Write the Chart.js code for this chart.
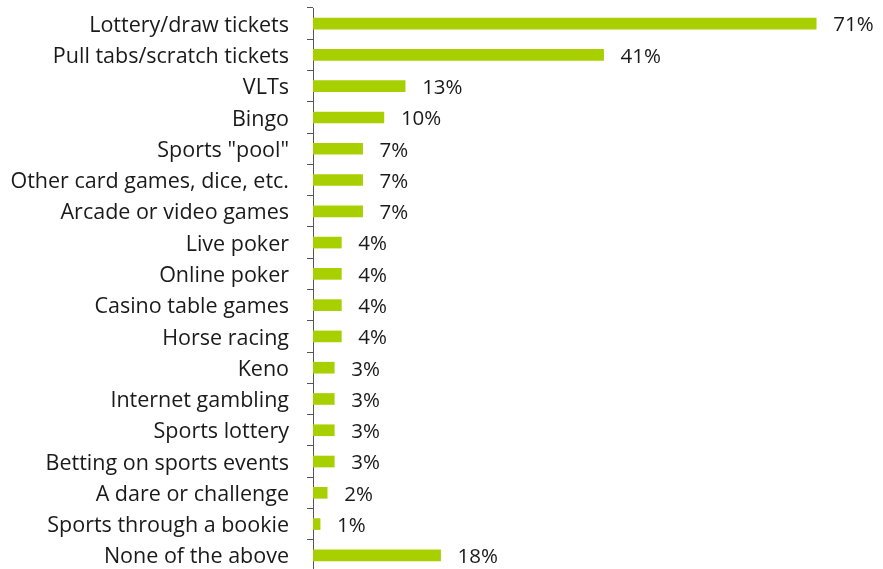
<!DOCTYPE html>
<html>
<head>
<meta charset="utf-8">
<script src="https://cdn.jsdelivr.net/npm/chart.js@4/dist/chart.umd.min.js"></script>
<style>
html,body{margin:0;padding:0;background:#fff;overflow:hidden;}
#wrap{width:883px;height:572px;position:relative;}
</style>
</head>
<body>
<div id="wrap"><canvas id="c" width="883" height="572"></canvas></div>
<script>
const categories = [
  "Lottery/draw tickets",
  "Pull tabs/scratch tickets",
  "VLTs",
  "Bingo",
  "Sports \"pool\"",
  "Other card games, dice, etc.",
  "Arcade or video games",
  "Live poker",
  "Online poker",
  "Casino table games",
  "Horse racing",
  "Keno",
  "Internet gambling",
  "Sports lottery",
  "Betting on sports events",
  "A dare or challenge",
  "Sports through a bookie",
  "None of the above"
];
const values = [71, 41, 13, 10, 7, 7, 7, 4, 4, 4, 4, 3, 3, 3, 3, 2, 1, 18];

const FONT = "'Open Sans', Lato, sans-serif";

const valueLabels = {
  id: 'valueLabels',
  afterDatasetsDraw(chart) {
    const ctx = chart.ctx;
    const meta = chart.getDatasetMeta(0);
    ctx.save();
    ctx.font = "20.5px " + FONT;
    ctx.fillStyle = "#1a1a1a";
    ctx.textBaseline = "middle";
    ctx.textAlign = "left";
    meta.data.forEach((bar, i) => {
      ctx.fillText(values[i] + "%", bar.x + 17, bar.y + 2);
    });
    ctx.restore();
  }
};

new Chart(document.getElementById('c'), {
  type: 'bar',
  data: {
    labels: categories,
    datasets: [{
      data: values,
      backgroundColor: '#a8d000',
      borderWidth: 0,
      barThickness: 11
    }]
  },
  options: {
    indexAxis: 'y',
    responsive: false,
    animation: false,
    events: [],
    layout: { padding: { top: 8, right: 3, bottom: 1, left: 0 } },
    plugins: { legend: { display: false }, tooltip: { enabled: false } },
    scales: {
      x: {
        display: false,
        min: 0,
        max: 80
      },
      y: {
        afterFit(scale) {
          scale.width = 313;
          scale.paddingTop = 0;
          scale.paddingBottom = 0;
        },
        grid: {
          display: true,
          drawOnChartArea: false,
          drawTicks: true,
          tickLength: 6,
          color: '#555',
          offset: true
        },
        border: { display: true, color: '#555', width: 1 },
        ticks: {
          padding: 18,
          labelOffset: 2,
          color: '#1a1a1a',
          font: { family: FONT, size: 21.5 },
          autoSkip: false
        }
      }
    }
  },
  plugins: [valueLabels]
});
</script>
</body>
</html>
